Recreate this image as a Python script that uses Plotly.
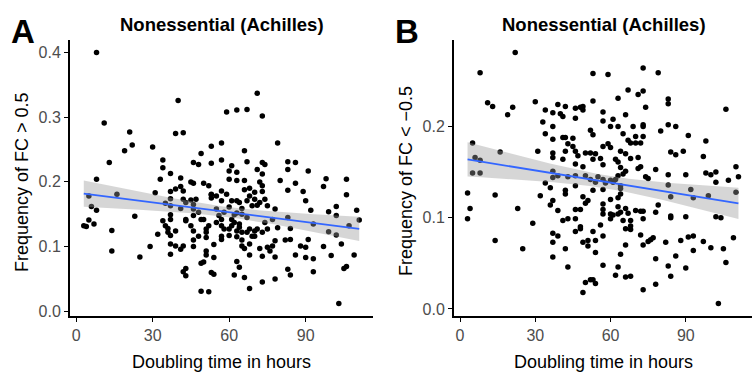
import numpy as np
import plotly.graph_objects as go

# ---------------- Data ----------------
# Panel A: Frequency of FC > 0.5 vs doubling time
a_x = [8,71,40,59,63,67,73,11,21,39,42,22,19,30,79,57,53,66,49,13,34,57,46,48,53,67,73,74,83,86,
       34,37,61,63,60,71,73,83,91,8,33,41,60,63,66,72,80,98,106,45,46,50,52,41,97,57,66,68,73,83,86,89,
       16,31,37,42,53,59,106,37,42,45,53,57,63,67,70,72,90,5,6,8,43,46,37,60,65,78,92,99,102,110,41,46,55,
       34,37,43,46,50,57,62,67,83,23,5,7,3,4,102,111,93,107,14,32,36,39,46,51,58,64,70,79,84,99,
       37,48,51,57,60,63,67,69,73,82,84,91,102,46,57,65,78,37,39,42,46,54,65,68,75,77,88,90,97,104,29,41,14,51,66,72,76,
       37,51,68,73,78,86,90,93,100,109,25,54,49,50,63,64,106,105,43,42,43,53,54,62,66,83,84,93,73,78,68,49,52,103,
       55,53,61,64,69,71,63,65,61,62,64,61,60,63,65,57,55,58,56,48,49,51,52,45,43,47,39,35,37,35,36,
       75,74,77,68,70,71,73,70,68,75,74]
a_y = [0.400,0.337,0.326,0.308,0.311,0.312,0.302,0.291,0.277,0.275,0.276,0.257,0.248,0.254,0.260,0.260,0.255,0.248,0.244,0.230,
       0.234,0.234,0.230,0.227,0.229,0.231,0.230,0.227,0.231,0.230,
       0.222,0.213,0.225,0.215,0.217,0.219,0.212,0.219,0.217,0.204,0.204,0.206,0.204,0.202,0.202,0.200,0.202,0.205,0.204,
       0.200,0.198,0.198,0.194,0.193,0.193,0.186,0.188,0.190,0.185,0.187,0.198,0.185,
       0.181,0.183,0.185,0.186,0.180,0.181,0.180,0.174,0.173,0.172,0.175,0.171,0.171,0.171,0.173,0.168,0.171,
       0.178,0.162,0.156,0.168,0.165,0.163,0.161,0.159,0.158,0.156,0.154,0.162,0.156,0.159,0.158,0.158,
       0.140,0.149,0.140,0.148,0.142,0.142,0.149,0.145,0.145,0.147,0.141,0.135,0.132,0.131,0.148,0.141,0.135,0.132,
       0.125,0.119,0.128,0.124,0.124,0.127,0.127,0.130,0.124,0.129,0.128,0.123,
       0.117,0.116,0.114,0.116,0.117,0.115,0.122,0.116,0.122,0.110,0.111,0.111,0.118,0.110,0.111,0.110,0.109,
       0.104,0.101,0.101,0.100,0.103,0.101,0.104,0.099,0.101,0.101,0.099,0.100,0.104,0.100,0.096,0.093,0.093,0.097,0.097,0.093,
       0.088,0.087,0.087,0.085,0.084,0.087,0.083,0.081,0.086,0.087,0.084,0.083,0.074,0.076,0.077,0.068,0.069,0.066,
       0.066,0.061,0.055,0.060,0.057,0.056,0.052,0.065,0.056,0.061,0.045,0.050,0.035,0.031,0.030,0.012,
       0.178,0.181,0.171,0.168,0.163,0.164,0.152,0.150,0.142,0.137,0.135,0.132,0.127,0.124,0.122,0.132,0.137,0.153,0.148,
       0.153,0.142,0.122,0.132,0.132,0.142,0.173,0.189,0.167,0.142,0.132,0.122,
       0.127,0.137,0.142,0.127,0.116,0.127,0.194,0.184,0.178,0.163,0.173]

# Panel B: Frequency of FC < -0.5 vs doubling time
b_x = [22,73,8,53,59,79,67,73,71,63,53,83,83,11,13,21,30,39,42,46,48,49,74,106,34,49,57,37,40,19,41,66,61,46,33,57,
       73,83,37,60,63,69,73,86,52,80,53,65,91,34,41,42,45,70,73,37,67,98,43,45,57,59,68,70,72,5,
       16,31,46,50,52,54,60,64,66,84,89,37,42,86,37,47,56,62,68,71,97,6,8,41,53,46,57,63,49,64,71,72,78,110,
       5,8,37,66,98,102,65,83,90,100,39,46,50,55,63,74,75,111,37,43,52,57,60,62,61,107,34,54,58,102,83,
       36,46,64,57,64,92,42,42,53,110,3,14,32,64,99,84,93,49,63,60,37,51,36,50,57,79,63,
       4,23,39,46,48,57,66,70,72,73,67,78,57,60,63,61,64,84,84,90,102,104,3,60,43,41,46,65,73,29,68,
       68,56,48,48,66,46,53,68,37,39,57,72,77,76,75,91,93,109,14,54,88,37,49,51,51,66,73,82,97,
       25,42,100,105,93,54,64,86,37,78,106,57,43,63,83,90,62,66,68,84,52,53,50,54,78,49,73,103]
b_y = [0.281,0.264,0.259,0.258,0.257,0.259,0.240,0.239,0.235,0.231,0.228,0.230,0.225,0.226,0.222,0.221,0.227,0.224,
       0.222,0.220,0.221,0.222,0.221,0.219,0.218,0.218,0.216,0.215,0.214,0.213,0.211,0.213,0.208,0.209,0.205,0.206,
       0.202,0.202,0.200,0.200,0.200,0.200,0.200,0.200,0.196,0.195,0.191,0.192,0.190,0.192,0.188,0.188,0.187,0.189,0.189,
       0.186,0.185,0.184,0.181,0.178,0.178,0.181,0.182,0.182,0.182,0.182,
       0.172,0.173,0.173,0.171,0.171,0.170,0.177,0.173,0.170,0.172,0.173,0.171,0.173,0.169,0.166,0.168,0.165,0.164,0.165,
       0.166,0.167,0.166,0.163,0.164,0.164,0.159,0.158,0.161,0.156,0.155,0.154,0.156,0.153,0.156,
       0.149,0.149,0.151,0.151,0.149,0.150,0.148,0.147,0.147,0.147,0.146,0.146,0.146,0.145,0.146,0.145,0.143,0.145,
       0.144,0.145,0.142,0.142,0.141,0.142,0.139,0.141,0.138,0.139,0.138,0.139,0.136,
       0.133,0.135,0.135,0.131,0.132,0.131,0.130,0.126,0.130,0.128,0.127,0.125,0.124,0.126,0.124,0.123,0.122,0.123,0.122,
       0.120,0.119,0.119,0.114,0.116,0.115,0.114,0.112,
       0.110,0.110,0.108,0.109,0.109,0.109,0.110,0.108,0.107,0.107,0.105,0.106,0.104,0.104,0.104,0.103,0.106,0.102,0.100,
       0.101,0.101,0.100,0.099,0.099,0.099,0.097,0.099,0.097,0.099,0.094,0.097,
       0.091,0.092,0.090,0.088,0.088,0.085,0.085,0.087,0.083,0.080,0.080,0.081,0.078,0.076,0.074,0.079,0.080,0.078,
       0.075,0.075,0.075,0.073,0.073,0.069,0.075,0.070,0.070,0.073,0.074,
       0.066,0.066,0.067,0.066,0.064,0.062,0.060,0.058,0.057,0.055,0.051,0.048,0.046,0.046,0.047,0.045,
       0.037,0.035,0.036,0.036,0.032,0.032,0.029,0.028,0.027,0.018,0.021,0.006]

x_ticks = [0, 30, 60, 90]
a_yticks = [0.0, 0.1, 0.2, 0.3, 0.4]
b_yticks = [0.0, 0.1, 0.2]
panel_title = "Nonessential (Achilles)"
x_title = "Doubling time in hours"
a_ytitle = "Frequency of FC > 0.5"
b_ytitle = "Frequency of FC < \u22120.5"

FONT = "Liberation Sans, Arial, Helvetica, sans-serif"


def lm_band(x, y, n_grid=80):
    x = np.asarray(x, float)
    y = np.asarray(y, float)
    n = len(x)
    slope, intercept = np.polyfit(x, y, 1)
    resid = y - (slope * x + intercept)
    s = np.sqrt(np.sum(resid ** 2) / (n - 2))
    xbar = x.mean()
    sxx = np.sum((x - xbar) ** 2)
    gx = np.linspace(x.min(), x.max(), n_grid)
    gy = slope * gx + intercept
    se = s * np.sqrt(1.0 / n + (gx - xbar) ** 2 / sxx)
    t = 1.97
    return gx, gy, gy - t * se, gy + t * se


fig = go.Figure()

panels = [
    (a_x, a_y, "x", "y"),
    (b_x, b_y, "x2", "y2"),
]
for px, py, xa, ya in panels:
    fig.add_trace(go.Scatter(x=px, y=py, mode="markers", xaxis=xa, yaxis=ya,
                             marker=dict(color="black", size=5.5, line=dict(width=0)),
                             showlegend=False, hoverinfo="skip"))
    gx, gy, lo, hi = lm_band(px, py)
    fig.add_trace(go.Scatter(x=np.concatenate([gx, gx[::-1]]), y=np.concatenate([hi, lo[::-1]]),
                             mode="lines", fill="toself", fillcolor="rgba(153,153,153,0.4)",
                             line=dict(width=0), xaxis=xa, yaxis=ya, showlegend=False, hoverinfo="skip"))
    fig.add_trace(go.Scatter(x=gx, y=gy, mode="lines", line=dict(color="#3366FF", width=1.8),
                             xaxis=xa, yaxis=ya, showlegend=False, hoverinfo="skip"))

W, H = 753, 373
y_dom = [(H - 316) / H, (H - 40) / H]

common_axis = dict(showgrid=False, zeroline=False, showline=True, linecolor="#000000", linewidth=2,
                   ticks="outside", ticklen=4, tickwidth=1.2, tickcolor="#000000", mirror=False,
                   tickfont=dict(family=FONT, size=16, color="#4D4D4D"))

fig.update_layout(
    width=W, height=H,
    margin=dict(l=0, r=0, t=0, b=0, autoexpand=False),
    paper_bgcolor="white", plot_bgcolor="white",
    font=dict(family=FONT),
    xaxis=dict(domain=[70 / W, 373 / W], range=[-2.4, 116.4], tickvals=x_ticks, anchor="y", **common_axis),
    yaxis=dict(domain=y_dom, range=[-0.0074, 0.4194], tickvals=a_yticks, tickformat=".1f", anchor="x", **common_axis),
    xaxis2=dict(domain=[454 / W, 752 / W], range=[-2.4, 116.4], tickvals=x_ticks, anchor="y2", **common_axis),
    yaxis2=dict(domain=y_dom, range=[-0.0077, 0.2948], tickvals=b_yticks, tickformat=".1f", anchor="x2", **common_axis),
)

ann = []
# panel titles
ann.append(dict(text="<b>%s</b>" % panel_title, x=221.5 / W, y=1 - 24 / H, xref="paper", yref="paper",
                showarrow=False, xanchor="center", yanchor="middle", font=dict(size=18.5, color="black")))
ann.append(dict(text="<b>%s</b>" % panel_title, x=604 / W, y=1 - 24 / H, xref="paper", yref="paper",
                showarrow=False, xanchor="center", yanchor="middle", font=dict(size=18.5, color="black")))
# panel letters
ann.append(dict(text="<b>A</b>", x=9 / W, y=1 - 31 / H, xref="paper", yref="paper", showarrow=False,
                xanchor="left", yanchor="middle", font=dict(size=33, color="black")))
ann.append(dict(text="<b>B</b>", x=393 / W, y=1 - 31 / H, xref="paper", yref="paper", showarrow=False,
                xanchor="left", yanchor="middle", font=dict(size=33, color="black")))
# x titles
for cx in (221.5, 603):
    ann.append(dict(text=x_title, x=cx / W, y=1 - 362 / H, xref="paper", yref="paper", showarrow=False,
                    xanchor="center", yanchor="middle", font=dict(size=18, color="black")))
# y titles
ann.append(dict(text=a_ytitle, x=22 / W, y=1 - 182 / H, xref="paper", yref="paper", showarrow=False,
                textangle=-90, xanchor="center", yanchor="middle", font=dict(size=18, color="black")))
ann.append(dict(text=b_ytitle, x=406 / W, y=1 - 181 / H, xref="paper", yref="paper", showarrow=False,
                textangle=-90, xanchor="center", yanchor="middle", font=dict(size=18, color="black")))
fig.update_layout(annotations=ann)

fig.write_html("out.html", config={"displayModeBar": False},
               post_script="document.body.style.margin='0';document.body.style.padding='0';")
